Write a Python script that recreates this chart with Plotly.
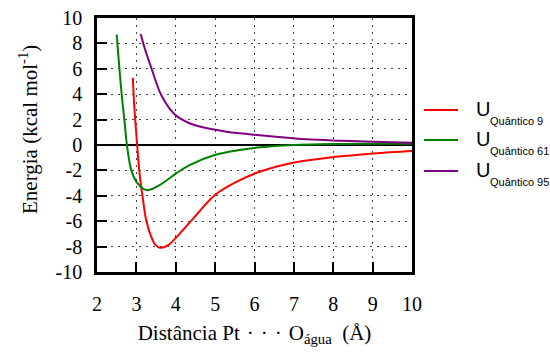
import plotly.graph_objects as go

# Data
x_q9 = [2.91, 2.95, 3.02, 3.08, 3.17, 3.25, 3.38, 3.48, 3.60, 3.80, 4.02, 4.44, 4.99, 5.54, 6.13, 6.98, 8.00, 9.02, 10.0]
y_q9 = [5.30, 2.90, 0.00, -2.24, -4.35, -5.93, -7.25, -7.85, -8.09, -7.90, -7.25, -5.80, -3.95, -2.90, -2.11, -1.40, -0.95, -0.66, -0.47]

x_q61 = [2.50, 2.62, 2.70, 2.76, 2.87, 3.00, 3.17, 3.29, 3.59, 4.01, 4.35, 4.99, 5.63, 6.14, 7.00, 8.00, 9.00, 10.0]
y_q61 = [8.70, 4.21, 1.84, 0.00, -1.98, -2.90, -3.43, -3.56, -3.16, -2.24, -1.58, -0.79, -0.40, -0.18, 0.00, 0.08, 0.10, 0.10]

x_q95 = [3.11, 3.21, 3.38, 3.59, 3.72, 3.84, 3.97, 4.10, 4.35, 4.61, 5.29, 5.63, 6.13, 6.47, 7.32, 8.17, 9.02, 10.0]
y_q95 = [8.75, 7.64, 6.06, 4.21, 3.45, 2.88, 2.42, 2.12, 1.71, 1.45, 1.05, 0.92, 0.77, 0.67, 0.45, 0.34, 0.26, 0.18]

names = ["Quântico 9", "Quântico 61", "Quântico 95"]
colors = ["#ff0000", "#008000", "#800080"]

x_ticks = [2, 3, 4, 5, 6, 7, 8, 9, 10]
y_ticks = [-10, -8, -6, -4, -2, 0, 2, 4, 6, 8, 10]

serif = "Liberation Serif"
sans = "Liberation Sans"

W, H = 550, 358
ML, MR, MT, MB = 97, 138, 18, 86
PW, PH = W - ML - MR, H - MT - MB


def px_x(px):
    return (px - ML) / PW


def px_y(py):
    return (H - MB - py) / PH


fig = go.Figure()
for xs, ys, nm, c in zip([x_q9, x_q61, x_q95], [y_q9, y_q61, y_q95], names, colors):
    fig.add_trace(go.Scatter(
        x=xs, y=ys, mode="lines", name="U " + nm, showlegend=False,
        line=dict(color=c, width=2, shape="spline", smoothing=1.0),
    ))

# hand-drawn legend (to the right of the plot area)
shapes = []
annotations = []
legend_rows = [110, 140, 171]
for row, nm, c in zip(legend_rows, names, colors):
    shapes.append(dict(type="line", xref="paper", yref="paper",
                       x0=px_x(424), x1=px_x(458), y0=px_y(row), y1=px_y(row),
                       line=dict(color=c, width=2)))
    annotations.append(dict(text="U", xref="paper", yref="paper",
                            x=px_x(474), y=px_y(row - 1), xanchor="left", yanchor="middle",
                            showarrow=False, font=dict(family=sans, size=20, color="black")))
    annotations.append(dict(text=nm, xref="paper", yref="paper",
                            x=px_x(488), y=px_y(row + 11), xanchor="left", yanchor="middle",
                            showarrow=False, font=dict(family=sans, size=11, color="black")))

# y-axis title
annotations.append(dict(text="Energia (kcal mol<sup>-1</sup>)", xref="paper", yref="paper",
                        x=px_x(28), y=px_y(130), xanchor="center", yanchor="middle",
                        textangle=-90, showarrow=False,
                        font=dict(family=serif, size=21, color="black")))

grid_style = dict(showgrid=True, gridcolor="#444444", griddash="2px,5px", gridwidth=1)

fig.update_layout(
    width=W, height=H,
    margin=dict(l=ML, r=MR, t=MT, b=MB, autoexpand=False),
    paper_bgcolor="white", plot_bgcolor="white",
    showlegend=False,
    shapes=shapes, annotations=annotations,
    xaxis=dict(
        range=[2, 10], tickvals=x_ticks, ticktext=[str(v) for v in x_ticks],
        ticks="inside", ticklen=10, tickwidth=2, tickcolor="black",
        showline=True, linecolor="black", linewidth=2.5, mirror=True,
        zeroline=False, automargin=False, ticklabelstandoff=12,
        tickfont=dict(family=serif, size=20, color="black"),
        title=dict(text="Distância Pt\u2004·\u2004·\u2004·\u2004O<sub>água</sub>\u2002(Å)",
                   font=dict(family=serif, size=21, color="black"), standoff=12),
        **grid_style,
    ),
    yaxis=dict(
        range=[-10, 10], tickvals=y_ticks, ticktext=[str(v) for v in y_ticks],
        ticks="inside", ticklen=10, tickwidth=2, tickcolor="black",
        showline=True, linecolor="black", linewidth=2.5, mirror=True,
        zeroline=True, zerolinecolor="black", zerolinewidth=2,
        automargin=False, ticklabelstandoff=8,
        tickfont=dict(family=serif, size=20, color="black"),
        **grid_style,
    ),
)

fig.write_html("out.html", config={"displayModeBar": False},
               post_script="document.body.style.margin='0';document.body.style.overflow='hidden';")
